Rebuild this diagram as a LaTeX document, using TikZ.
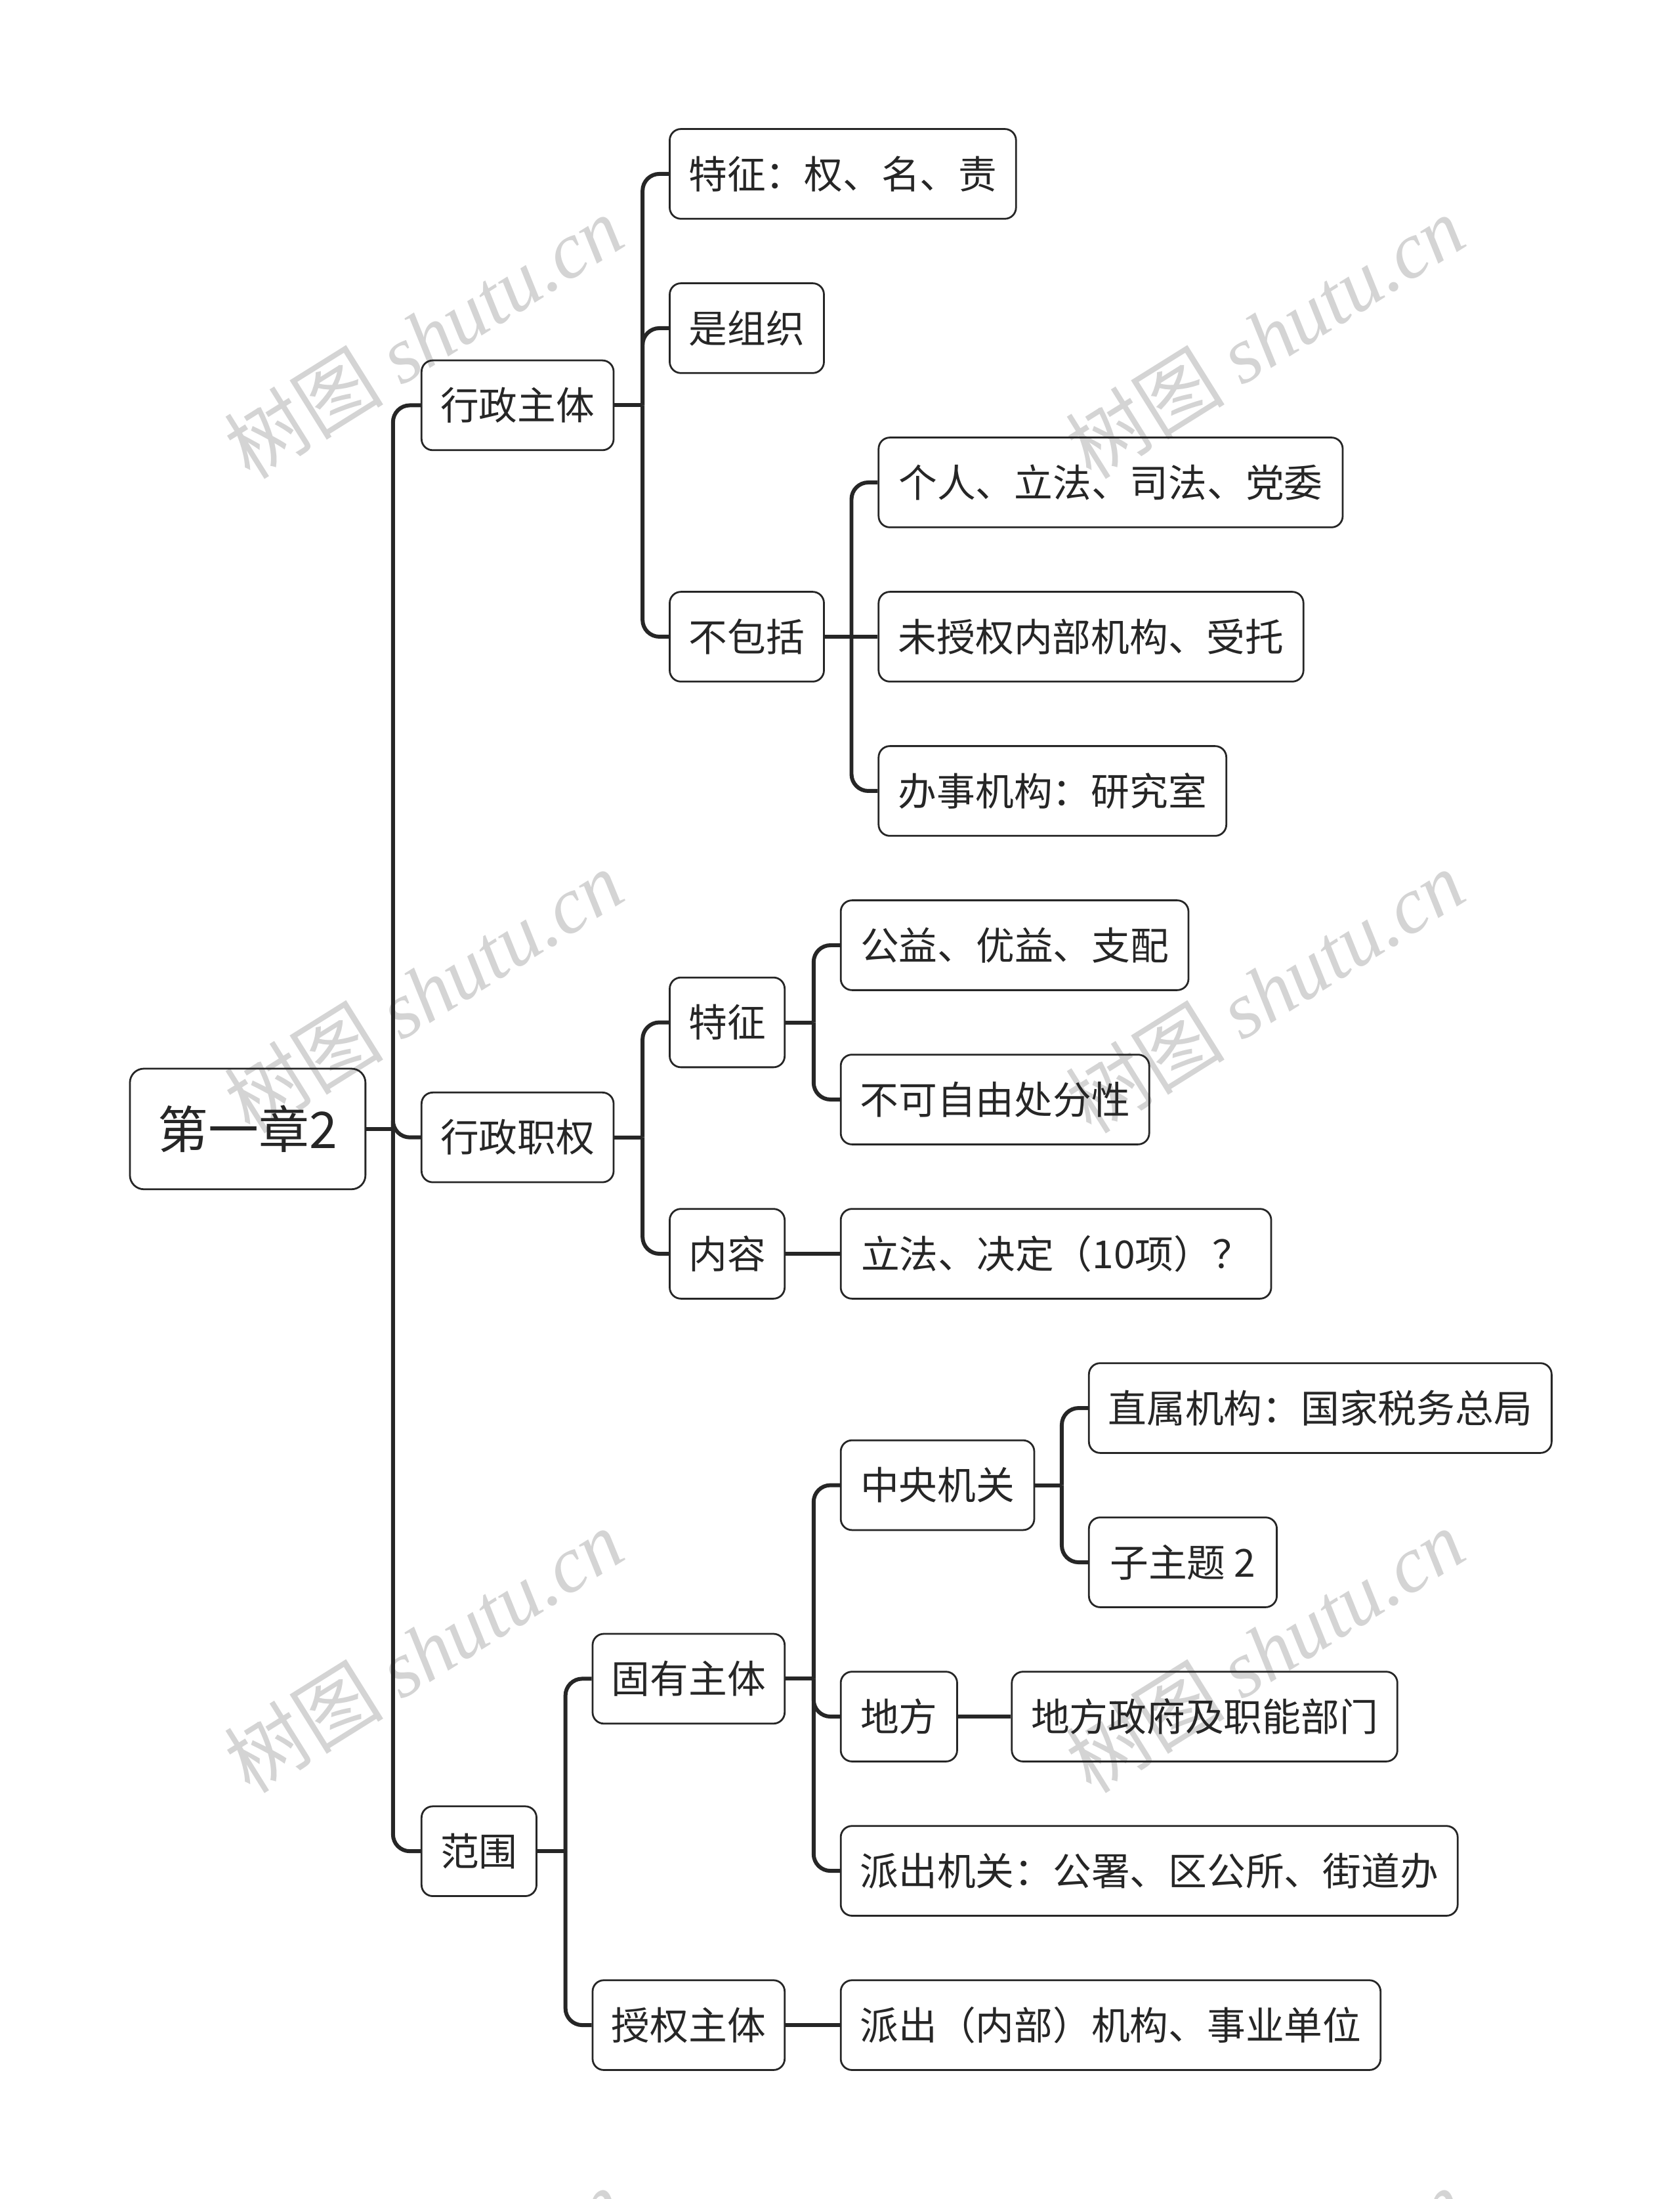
\documentclass[tikz,border=0pt]{standalone}
\usepackage{fontspec}
\setmainfont{Noto Sans CJK SC}
\newfontfamily\markfont{Liberation Serif}
\usetikzlibrary{positioning, calc}
\usepackage{xcolor}
\definecolor{mapdark}{HTML}{262626}
\definecolor{markgray}{HTML}{D4D4D4}

\begin{document}
\begin{tikzpicture}[
  x=1pt, y=-1pt,
  topic/.style={
    rectangle, rounded corners=8pt,
    minimum width=#1, minimum height=64pt, inner sep=0pt,
    draw=mapdark, line width=1.3pt,
    font=\fontsize{27.5}{33}\selectfont, text=mapdark, anchor=west
  },
  link/.style={line width=2.8pt, draw=mapdark, rounded corners=12pt},
  wmark/.style={
    text=markgray, rotate=32,
    font=\fontsize{57}{60}\selectfont
  }
]
  \useasboundingbox (0,0) rectangle (1198,1568);

  % Watermarks behind everything
  \node[wmark] (wm1) at (302,240) {树图~{\markfont\itshape shutu.cn}};
  \node[wmark] (wm2) at (902,240) {树图~{\markfont\itshape shutu.cn}};
  \node[wmark] (wm3) at (302,707) {树图~{\markfont\itshape shutu.cn}};
  \node[wmark] (wm4) at (902,707) {树图~{\markfont\itshape shutu.cn}};
  \node[wmark] (wm5) at (302,1177) {树图~{\markfont\itshape shutu.cn}};
  \node[wmark] (wm6) at (902,1177) {树图~{\markfont\itshape shutu.cn}};
  \node[wmark] (wm7) at (302,1647) {树图~{\markfont\itshape shutu.cn}};
  \node[wmark] (wm8) at (902,1647) {树图~{\markfont\itshape shutu.cn}};

  % Root and first level
  \node[topic=168, minimum height=86pt, rounded corners=10pt,
        font=\fontsize{36}{40}\selectfont] (root) at (92,805) {第一章2};
  \node[topic=137] (zhuti) at (300,289) {行政主体};
  \node[topic=137] (zhiquan) at (300,811) {行政职权};
  \node[topic=82] (fanwei) at (300,1320) {范围};

  % 行政主体
  \node[topic=247] (tezheng) at (477,124) {特征：权、名、责};
  \node[topic=110] (zuzhi) at (477,234) {是组织};
  \node[topic=110] (bubao) at (477,454) {不包括};
  \node[topic=331] (geren) at (626,344) {个人、立法、司法、党委};
  \node[topic=303] (weishou) at (626,454) {未授权内部机构、受托};
  \node[topic=248] (banshi) at (626,564) {办事机构：研究室};

  % 行政职权
  \node[topic=82] (qtezheng) at (477,729) {特征};
  \node[topic=82] (neirong) at (477,894) {内容};
  \node[topic=248] (gongyi) at (599,674) {公益、优益、支配};
  \node[topic=220] (bukefen) at (599,784) {不可自由处分性};
  \node[topic=307] (lifa) at (599,894) {立法、决定（10项）？};

  % 范围
  \node[topic=137] (guyou) at (422,1197) {固有主体};
  \node[topic=137] (shouquan) at (422,1444) {授权主体};
  \node[topic=138] (zhongyang) at (599,1059) {中央机关};
  \node[topic=83] (difang) at (599,1224) {地方};
  \node[topic=440] (paichu) at (599,1334) {派出机关：公署、区公所、街道办};
  \node[topic=330] (zhishu) at (776,1004) {直属机构：国家税务总局};
  \node[topic=134] (zizhuti) at (776,1114) {子主题 2};
  \node[topic=275] (dfzf) at (721,1224) {地方政府及职能部门};
  \node[topic=385] (pcnb) at (599,1444) {派出（内部）机构、事业单位};

  % Connectors
  \draw[link] (root.east) -- ++(19,0) coordinate (jroot);
  \draw[link] (jroot) |- (zhuti.west);
  \draw[link] (jroot) |- (zhiquan.west);
  \draw[link] (jroot) |- (fanwei.west);

  \draw[link] (zhuti.east) -- ++(20,0) coordinate (jzhuti);
  \draw[link] (jzhuti) |- (tezheng.west);
  \draw[link] (jzhuti) |- (zuzhi.west);
  \draw[link] (jzhuti) |- (bubao.west);

  \draw[link] (bubao.east) -- ++(19,0) coordinate (jbubao);
  \draw[link] (jbubao) |- (geren.west);
  \draw[link] (jbubao) -- (weishou.west);
  \draw[link] (jbubao) |- (banshi.west);

  \draw[link] (zhiquan.east) -- ++(20,0) coordinate (jzhiquan);
  \draw[link] (jzhiquan) |- (qtezheng.west);
  \draw[link] (jzhiquan) |- (neirong.west);

  \draw[link] (qtezheng.east) -- ++(20,0) coordinate (jqtz);
  \draw[link] (jqtz) |- (gongyi.west);
  \draw[link] (jqtz) |- (bukefen.west);
  \draw[link] (neirong.east) -- (lifa.west);

  \draw[link] (fanwei.east) -- ++(20,0) coordinate (jfanwei);
  \draw[link] (jfanwei) |- (guyou.west);
  \draw[link] (jfanwei) |- (shouquan.west);

  \draw[link] (guyou.east) -- ++(20,0) coordinate (jguyou);
  \draw[link] (jguyou) |- (zhongyang.west);
  \draw[link] (jguyou) |- (difang.west);
  \draw[link] (jguyou) |- (paichu.west);

  \draw[link] (zhongyang.east) -- ++(19,0) coordinate (jzy);
  \draw[link] (jzy) |- (zhishu.west);
  \draw[link] (jzy) |- (zizhuti.west);
  \draw[link] (difang.east) -- (dfzf.west);
  \draw[link] (shouquan.east) -- (pcnb.west);
\end{tikzpicture}
\end{document}
